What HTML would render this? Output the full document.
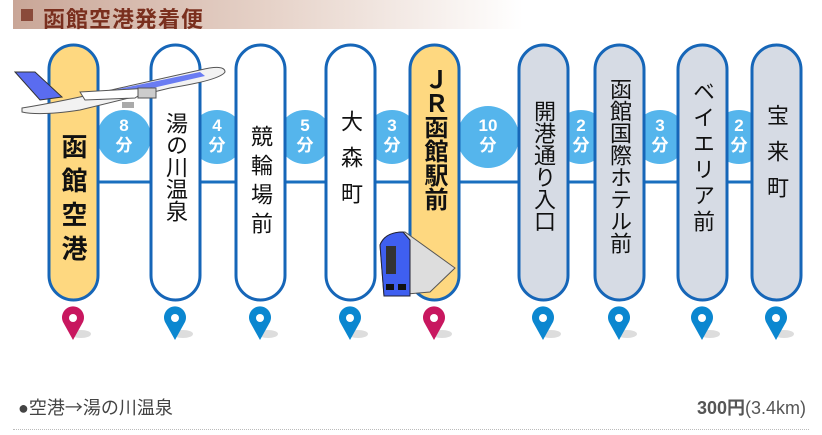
<!DOCTYPE html>
<html><head><meta charset="utf-8"><style>
body{margin:0;width:822px;height:435px;background:#fff;overflow:hidden;font-family:"Liberation Sans","Noto Sans CJK JP",sans-serif;position:relative}
.hdr{position:absolute;left:13px;top:0;width:510px;height:29px;background:linear-gradient(90deg,#c9a697 0%,#e6d2c8 50%,#fff 100%)}
.hdr span{position:absolute;left:30px;top:2px;font-size:22px;color:#7a2f1e;font-weight:bold;letter-spacing:1px}
.hdr i{position:absolute;left:8px;top:9px;width:12px;height:12px;background:#8a4a3a}
.v{position:absolute;writing-mode:vertical-rl;text-orientation:upright;font-size:22px;color:#111;line-height:1;}
.m{position:absolute;color:#fff;font-size:17px;text-align:center;line-height:20px;font-weight:bold}
.foot{position:absolute;left:18px;top:394px;font-size:18px;color:#444}
.price{position:absolute;right:16px;top:394px;font-size:18px;color:#555}
.dot{position:absolute;left:13px;right:13px;top:429px;border-top:1px dotted #bbb}
</style></head><body>
<div class="hdr"><i></i><span>函館空港発着便</span></div>
<svg width="822" height="350" style="position:absolute;left:0;top:0">
<line x1="60" y1="182" x2="790" y2="182" stroke="#1a6fbf" stroke-width="3"/>
<g fill="#55b5ec">
<circle cx="124" cy="137" r="27"/><circle cx="217" cy="137" r="27"/><circle cx="305" cy="137" r="27"/><circle cx="392" cy="137" r="27"/>
<circle cx="488" cy="137" r="31"/><circle cx="581" cy="137" r="27"/><circle cx="660" cy="137" r="27"/><circle cx="739" cy="137" r="27"/>
</g>
<g stroke="#1666b8" stroke-width="3">
<rect x="49" y="45" width="49" height="255" rx="24.5" fill="#fed880"/>
<rect x="151" y="45" width="49" height="255" rx="24.5" fill="#fff"/>
<rect x="236" y="45" width="49" height="255" rx="24.5" fill="#fff"/>
<rect x="326" y="45" width="49" height="255" rx="24.5" fill="#fff"/>
<rect x="410" y="45" width="49" height="255" rx="24.5" fill="#fed880"/>
<rect x="519" y="45" width="49" height="255" rx="24.5" fill="#d6dbe4"/>
<rect x="595" y="45" width="49" height="255" rx="24.5" fill="#d6dbe4"/>
<rect x="678" y="45" width="49" height="255" rx="24.5" fill="#d6dbe4"/>
<rect x="752" y="45" width="49" height="255" rx="24.5" fill="#d6dbe4"/>
</g>
<!-- plane -->
<g>
<polygon points="15,72 35,72 62,97 40,100" fill="#5a6cf0" stroke="#333" stroke-width="1"/>
<path d="M22,108 Q60,102 120,88 L200,70 Q225,64 225,72 Q220,80 170,88 L80,110 Q40,116 22,112 Z" fill="#f2f2f2" stroke="#555" stroke-width="1"/>
<path d="M90,95 L200,72 L205,76 L100,100 Z" fill="#6a7cf2"/>
<path d="M80,92 L150,88 L135,98 L85,100 Z" fill="#fff" stroke="#555"/>
<rect x="138" y="88" width="18" height="10" fill="#ccc" stroke="#555"/>
<rect x="122" y="102" width="12" height="6" fill="#aaa"/>
</g>
<!-- train -->
<g>
<path d="M380,245 Q385,232 405,232 L455,268 L430,292 L384,296 Z" fill="#ddd" stroke="#555"/>
<path d="M380,245 Q385,232 403,232 L410,240 L410,296 L384,296 Z" fill="#3f5ff0" stroke="#223"/>
<rect x="386" y="246" width="10" height="28" fill="#333"/>
<rect x="386" y="284" width="8" height="6" fill="#111"/><rect x="398" y="284" width="8" height="6" fill="#111"/>
</g>
<!-- pins -->
<g>
<g transform="translate(73,0)"><ellipse cx="8" cy="334" rx="10" ry="4" fill="#ddd"/><path d="M0,340 L-10,322 A11,11 0 1 1 10,322 Z" fill="#c8175f"/><circle cx="0" cy="318" r="4" fill="#fff"/></g>
<g transform="translate(175,0)"><ellipse cx="8" cy="334" rx="10" ry="4" fill="#ddd"/><path d="M0,340 L-10,322 A11,11 0 1 1 10,322 Z" fill="#0b87d0"/><circle cx="0" cy="318" r="4" fill="#fff"/></g>
<g transform="translate(260,0)"><ellipse cx="8" cy="334" rx="10" ry="4" fill="#ddd"/><path d="M0,340 L-10,322 A11,11 0 1 1 10,322 Z" fill="#0b87d0"/><circle cx="0" cy="318" r="4" fill="#fff"/></g>
<g transform="translate(350,0)"><ellipse cx="8" cy="334" rx="10" ry="4" fill="#ddd"/><path d="M0,340 L-10,322 A11,11 0 1 1 10,322 Z" fill="#0b87d0"/><circle cx="0" cy="318" r="4" fill="#fff"/></g>
<g transform="translate(434,0)"><ellipse cx="8" cy="334" rx="10" ry="4" fill="#ddd"/><path d="M0,340 L-10,322 A11,11 0 1 1 10,322 Z" fill="#c8175f"/><circle cx="0" cy="318" r="4" fill="#fff"/></g>
<g transform="translate(543,0)"><ellipse cx="8" cy="334" rx="10" ry="4" fill="#ddd"/><path d="M0,340 L-10,322 A11,11 0 1 1 10,322 Z" fill="#0b87d0"/><circle cx="0" cy="318" r="4" fill="#fff"/></g>
<g transform="translate(619,0)"><ellipse cx="8" cy="334" rx="10" ry="4" fill="#ddd"/><path d="M0,340 L-10,322 A11,11 0 1 1 10,322 Z" fill="#0b87d0"/><circle cx="0" cy="318" r="4" fill="#fff"/></g>
<g transform="translate(702,0)"><ellipse cx="8" cy="334" rx="10" ry="4" fill="#ddd"/><path d="M0,340 L-10,322 A11,11 0 1 1 10,322 Z" fill="#0b87d0"/><circle cx="0" cy="318" r="4" fill="#fff"/></g>
<g transform="translate(776,0)"><ellipse cx="8" cy="334" rx="10" ry="4" fill="#ddd"/><path d="M0,340 L-10,322 A11,11 0 1 1 10,322 Z" fill="#0b87d0"/><circle cx="0" cy="318" r="4" fill="#fff"/></g>
</g>
</svg>
<div class="v" style="left:60px;top:133px;font-size:26px;font-weight:bold;letter-spacing:8px">函館空港</div>
<div class="v" style="left:164px;top:112px">湯の川温泉</div>
<div class="v" style="left:249px;top:125px;letter-spacing:7px">競輪場前</div>
<div class="v" style="left:339px;top:110px;letter-spacing:14px">大森町</div>
<div class="v" style="left:421px;top:67px;font-size:24px;font-weight:bold">ＪＲ函館駅前</div>
<div class="v" style="left:532px;top:100px">開港通り入口</div>
<div class="v" style="left:608px;top:78px">函館国際ホテル前</div>
<div class="v" style="left:691px;top:80px;letter-spacing:4px">ベイエリア前</div>
<div class="v" style="left:765px;top:104px;letter-spacing:14px">宝来町</div>
<div class="m" style="left:112px;top:116px;width:24px">8<br>分</div>
<div class="m" style="left:205px;top:116px;width:24px">4<br>分</div>
<div class="m" style="left:293px;top:116px;width:24px">5<br>分</div>
<div class="m" style="left:380px;top:116px;width:24px">3<br>分</div>
<div class="m" style="left:472px;top:116px;width:32px">10<br>分</div>
<div class="m" style="left:569px;top:116px;width:24px">2<br>分</div>
<div class="m" style="left:648px;top:116px;width:24px">3<br>分</div>
<div class="m" style="left:727px;top:116px;width:24px">2<br>分</div>
<div class="foot">●空港<span style="font-family:'Noto Sans CJK JP',sans-serif">→</span>湯の川温泉</div>
<div class="price"><b>300円</b>(3.4km)</div>
<div class="dot"></div>
</body></html>
